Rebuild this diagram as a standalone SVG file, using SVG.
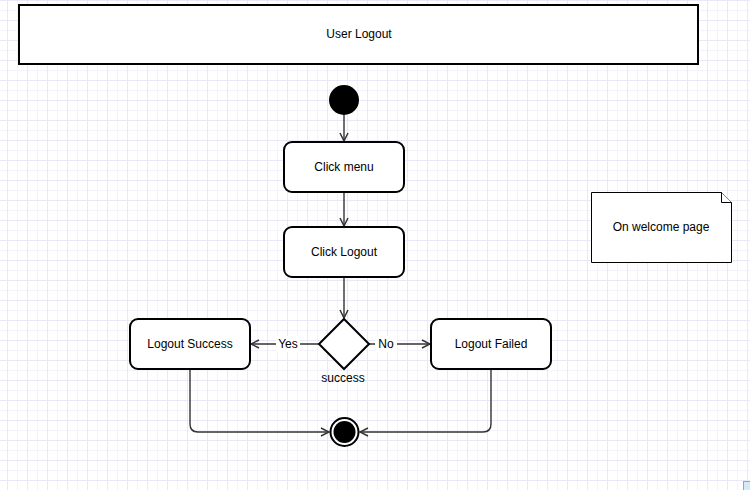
<svg xmlns="http://www.w3.org/2000/svg" width="750" height="490" viewBox="0 0 750 490">
<defs>
<pattern id="minor" x="7" y="0" width="10" height="10" patternUnits="userSpaceOnUse">
<path d="M0.5 0V10M0 0.5H10" stroke="#f3f3fc" stroke-width="1" fill="none"/>
</pattern>
<pattern id="major" x="7" y="0" width="20" height="20" patternUnits="userSpaceOnUse">
<path d="M0.5 0V20M0 0.5H20" stroke="#e8e8f8" stroke-width="1" fill="none"/>
</pattern>
<marker id="arr" viewBox="0 0 10 10" refX="9" refY="5" markerWidth="10" markerHeight="10" markerUnits="userSpaceOnUse" orient="auto">
<path d="M1 1L9 5L1 9" fill="none" stroke="#333" stroke-width="1.5"/>
</marker>
<style>
.t{font-family:"Liberation Sans",Arial,sans-serif;font-size:12px;fill:#000;text-anchor:middle;dominant-baseline:central}
.act{fill:#fff;stroke:#000;stroke-width:2}
.c{fill:none;stroke:#333;stroke-width:1.4;marker-end:url(#arr)}
</style>
</defs>
<rect width="750" height="490" fill="#fff"/>
<rect width="750" height="490" fill="url(#minor)"/>
<rect width="750" height="490" fill="url(#major)"/>
<rect x="743.5" y="481.5" width="7" height="9" fill="#d4e9f5" stroke="#8ab" stroke-width="1"/>

<g id="title">
<rect x="19" y="5" width="679" height="59" fill="#fff" stroke="#000" stroke-width="2"/>
<text class="t" x="359" y="34">User Logout</text>
</g>

<g id="connectors">
<path class="c" d="M344 115V141"/>
<path class="c" d="M344 192V226"/>
<path class="c" d="M344 277V318"/>
<path class="c" d="M319 344H251"/>
<path class="c" d="M369 344H430"/>
<path class="c" d="M190 369V424Q190 432 198 432H329"/>
<path class="c" d="M491 369V424Q491 432 483 432H360"/>
<rect x="276" y="336" width="24" height="16" fill="#fff"/>
<text class="t" x="288" y="344">Yes</text>
<rect x="375" y="336" width="22" height="16" fill="#fff"/>
<text class="t" x="386" y="344">No</text>
</g>

<g id="start">
<circle cx="344" cy="100" r="15" fill="#000"/>
</g>

<g id="click-menu">
<rect class="act" x="284" y="142" width="120" height="50" rx="8"/>
<text class="t" x="344" y="167">Click menu</text>
</g>

<g id="click-logout">
<rect class="act" x="284" y="227" width="120" height="50" rx="8"/>
<text class="t" x="344" y="252">Click Logout</text>
</g>

<g id="decision">
<path d="M344 319L369 344L344 369L319 344Z" fill="#fff" stroke="#000" stroke-width="2"/>
<text class="t" x="343" y="378">success</text>
</g>

<g id="logout-success">
<rect class="act" x="130" y="319" width="120" height="50" rx="8"/>
<text class="t" x="190" y="344">Logout Success</text>
</g>

<g id="logout-failed">
<rect class="act" x="431" y="319" width="120" height="50" rx="8"/>
<text class="t" x="491" y="344">Logout Failed</text>
</g>

<g id="end">
<circle cx="344.5" cy="432" r="14" fill="#fff" stroke="#000" stroke-width="2"/>
<circle cx="344.5" cy="432" r="11" fill="#000"/>
</g>

<g id="note">
<path d="M591.5 192.5H721.5L731.5 202.5V262.5H591.5Z" fill="#fff" stroke="#000" stroke-width="1"/>
<path d="M721.5 192.5V202.5H731.5" fill="#fff" stroke="#000" stroke-width="1"/>
<text class="t" x="661" y="227">On welcome page</text>
</g>
</svg>
